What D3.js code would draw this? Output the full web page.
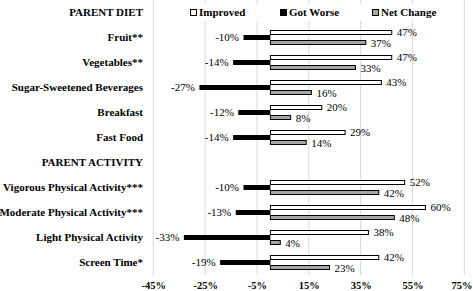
<!DOCTYPE html>
<html>
<head>
<meta charset="utf-8">
<script src="https://cdn.jsdelivr.net/npm/d3@7"></script>
<style>
  body { margin: 0; background: #fff; }
  svg { display: block; font-family: "Liberation Serif", "Times New Roman", serif; }
</style>
</head>
<body>
<svg id="chart" width="473" height="291"></svg>
<script>
var rows = [
  'PARENT DIET', 'Fruit**', 'Vegetables**', 'Sugar-Sweetened Beverages', 'Breakfast', 'Fast Food',
  'PARENT ACTIVITY', 'Vigorous Physical Activity***', 'Moderate Physical Activity***',
  'Light Physical Activity', 'Screen Time*'
];
var headers = ['PARENT DIET', 'PARENT ACTIVITY'];
var items = [
  'Fruit**', 'Vegetables**', 'Sugar-Sweetened Beverages', 'Breakfast', 'Fast Food',
  'Vigorous Physical Activity***', 'Moderate Physical Activity***', 'Light Physical Activity', 'Screen Time*'
];
var improved  = [47, 47, 43, 20, 29, 52, 60, 38, 42];
var gotWorse  = [-10, -14, -27, -12, -14, -10, -13, -33, -19];
var netChange = [37, 33, 16, 8, 14, 42, 48, 4, 23];
var seriesNames = ['Improved', 'Got Worse', 'Net Change'];
var xTicks = [-45, -25, -5, 15, 35, 55, 75];

var
  svg = d3.select('#chart'),
  colors = {'Improved': '#ffffff', 'Got Worse': '#000000', 'Net Change': '#a6a6a6'},
  labelX = 143,
  plotBottom = 275,
  width = 473
  ;

var x = d3.scaleLinear().domain([-45, 75]).range([153.3, 464.3]);
var y = d3.scaleBand().domain(rows).range([0, plotBottom]).paddingInner(0.4).paddingOuter(0.2);
var sub = d3.scaleBand().domain(seriesNames).range([0, y.bandwidth()]);

var data = [];
items.forEach(function(name, i){
  data.push({row: name, series: 'Improved', value: improved[i]});
  data.push({row: name, series: 'Got Worse', value: gotWorse[i]});
  data.push({row: name, series: 'Net Change', value: netChange[i]});
});

// gridlines
svg.append('g')
  .selectAll('line')
  .data(xTicks)
  .join('line')
    .attr('x1', function(d){ return x(d); })
    .attr('x2', function(d){ return x(d); })
    .attr('y1', 0)
    .attr('y2', plotBottom)
    .attr('stroke', '#d9d9d9')
    .attr('stroke-width', 1);

// x axis labels
var axis = d3.axisBottom(x).tickValues(xTicks).tickSize(0).tickPadding(0)
  .tickFormat(function(d){ return d + '%'; });
var gx = svg.append('g').attr('transform', 'translate(0,' + 282 + ')').call(axis);
gx.select('.domain').remove();
gx.selectAll('text')
  .attr('font-family', '"Liberation Serif", serif')
  .attr('font-size', 10.5)
  .attr('font-weight', 'bold')
  .attr('fill', '#000');
// keep the last label inside the window
gx.selectAll('text').each(function(){
  var box = this.getBBox(),
      tx = x(d3.select(this).datum()),
      over = tx + box.x + box.width - (width - 1);
  if(over > 0) d3.select(this).attr('dx', -over);
});

// row labels
svg.append('g')
  .selectAll('text')
  .data(rows)
  .join('text')
    .attr('x', labelX)
    .attr('y', function(d){ return y(d) + y.bandwidth() / 2; })
    .attr('dy', '0.35em')
    .attr('text-anchor', 'end')
    .attr('font-size', 11)
    .attr('font-weight', 'bold')
    .text(function(d){ return d; });

function barY(d){ return y(d.row) + sub(d.series); }

svg.append('g')
  .selectAll('rect')
  .data(data)
  .join('rect')
    .attr('x', function(d){ return x(Math.min(0, d.value)) + (d.value > 0 ? 0.5 : 0); })
    .attr('y', function(d){ return barY(d) + 0.5; })
    .attr('width', function(d){ return Math.abs(x(d.value) - x(0)) - (d.value > 0 ? 0.5 : 0); })
    .attr('height', sub.bandwidth() - 1)
    .attr('fill', function(d){ return colors[d.series]; })
    .attr('stroke', '#000')
    .attr('stroke-width', 1);

svg.append('g')
  .selectAll('text')
  .data(data)
  .join('text')
    .attr('x', function(d){ return d.value < 0 ? x(d.value) - 5 : x(d.value) + 5; })
    .attr('y', function(d){ return barY(d) + sub.bandwidth() / 2 + (d.series === 'Improved' ? -0.5 : d.series === 'Net Change' ? 0.5 : 0); })
    .attr('dy', '0.35em')
    .attr('text-anchor', function(d){ return d.value < 0 ? 'end' : 'start'; })
    .attr('font-size', 11)
    .text(function(d){ return d.value + '%'; });

// legend
var legend = svg.append('g');
legend.append('rect')
  .attr('x', 185).attr('y', 4).attr('width', 262).attr('height', 17)
  .attr('fill', '#fff');
var legendX = [190, 280, 372];
seriesNames.forEach(function(name, i){
  var g = legend.append('g').attr('transform', 'translate(' + legendX[i] + ',' + 12.5 + ')');
  g.append('rect')
    .attr('x', 0.5).attr('y', -3)
    .attr('width', 6).attr('height', 6)
    .attr('fill', colors[name])
    .attr('stroke', '#000')
    .attr('stroke-width', 1);
  g.append('text')
    .attr('x', 9)
    .attr('dy', '0.35em')
    .attr('font-size', 11)
    .attr('font-weight', 'bold')
    .text(name);
});
</script>
</body>
</html>
